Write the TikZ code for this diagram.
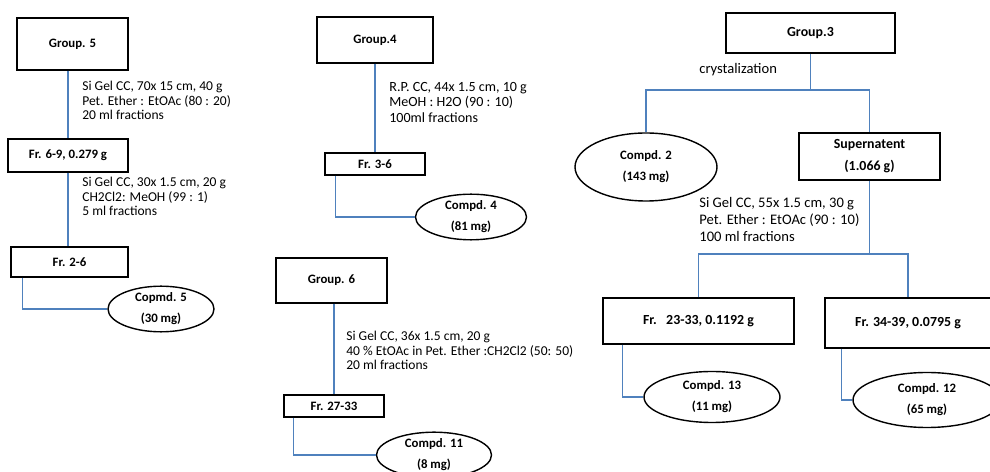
\documentclass[tikz,border=0pt]{standalone}
\usepackage{fontspec}
\setmainfont{Carlito}
\usepackage{xcolor}
\definecolor{link-blue}{HTML}{4F81BD}
\usetikzlibrary{shapes.geometric}

\begin{document}
\begin{tikzpicture}[
      every node/.style={font=\fontsize{7.7}{8.2}\selectfont},
      box/.style={draw=black, thick, rectangle, inner sep=0pt, align=center,
                  font=\fontsize{7.3}{12}\selectfont\bfseries},
      bigbox/.style={box, font=\fontsize{7.9}{12.5}\selectfont\bfseries},
      cmpd/.style={draw=black, thick, ellipse, inner sep=0pt, align=center,
                  font=\fontsize{7.3}{12}\selectfont\bfseries},
      note/.style={anchor=north west, align=left, inner sep=0pt},
      bignote/.style={note, font=\fontsize{8.3}{9.4}\selectfont},
      link/.style={draw=link-blue, line width=0.8pt}]
    \useasboundingbox (0,0) rectangle (19.8,9.44);
    % Group 5
    \node[box, minimum width=2.22cm, minimum height=1.04cm] (G5) at (1.45,8.56) {Group. 5};
    \node[box, minimum width=2.40cm, minimum height=0.66cm] (F69) at (1.36,6.33) {Fr. 6-9, 0.279 g};
    \node[box, minimum width=2.34cm, minimum height=0.60cm] (F26) at (1.39,4.20) {Fr. 2-6};
    \node[cmpd, minimum width=2.12cm, minimum height=0.84cm] (C5) at (3.22,3.26) {Copmd. 5\\(30 mg)};
    \node[note] (T1) at (1.64,7.82) {Si Gel CC, 70x 15 cm, 40 g\\Pet. Ether : EtOAc (80 : 20)\\20 ml fractions};
    \node[note] (T2) at (1.64,5.90) {Si Gel CC, 30x 1.5 cm, 20 g\\CH2Cl2: MeOH (99 : 1)\\5 ml fractions};
    \draw[link] (G5.south -| F69.north) -- (F69.north);
    \draw[link] (F69.south) -- (F69.south |- F26.north);
    \draw[link] ([xshift=0.24cm]F26.south west) |- (C5.west);
    % Group 4
    \node[box, minimum width=2.32cm, minimum height=0.92cm] (G4) at (7.50,8.64) {Group.4};
    \node[box, minimum width=2.00cm, minimum height=0.44cm] (F36) at (7.50,6.16) {Fr. 3-6};
    \node[cmpd, minimum width=2.22cm, minimum height=0.80cm] (C4) at (9.42,5.10) {Compd. 4\\(81 mg)};
    \node[note, font=\fontsize{8}{8.8}\selectfont] (T3) at (7.78,7.80) {R.P. CC, 44x 1.5 cm, 10 g\\MeOH : H2O (90 : 10)\\100ml fractions};
    \draw[link] (G4) -- (F36);
    \draw[link] ([xshift=0.22cm]F36.south west) |- (C4.west);
    % Group 6
    \node[box, minimum width=2.22cm, minimum height=0.90cm] (G6) at (6.63,3.83) {Group. 6};
    \node[box, minimum width=2.00cm, minimum height=0.44cm] (F2733) at (6.68,1.32) {Fr. 27-33};
    \node[cmpd, minimum width=2.30cm, minimum height=0.80cm] (C11) at (8.68,0.34) {Compd. 11\\(8 mg)};
    \node[note] (T4) at (6.92,2.82) {Si Gel CC, 36x 1.5 cm, 20 g\\40 \% EtOAc in Pet. Ether :CH2Cl2 (50: 50)\\20 ml fractions};
    \draw[link] (G6.south -| F2733.north) -- (F2733.north);
    \draw[link] ([xshift=0.20cm]F2733.south west) |- (C11.west);
    % Group 3
    \node[bigbox, minimum width=3.38cm, minimum height=0.80cm] (G3) at (16.21,8.78) {Group.3};
    \node[cmpd, minimum width=2.84cm, minimum height=1.36cm] (C2) at (12.92,6.10) {Compd. 2\\(143 mg)};
    \node[bigbox, minimum width=2.82cm, minimum height=0.94cm] (SUP) at (17.39,6.31) {Supernatent\\(1.066 g)};
    \node[anchor=west, inner sep=0pt, font=\fontsize{8.3}{9.4}\selectfont] (CRY) at (13.98,8.04) {crystalization};
    \node[bignote] (T5) at (13.98,5.49) {Si Gel CC, 55x 1.5 cm, 30 g\\Pet. Ether : EtOAc (90 : 10)\\100 ml fractions};
    \node[bigbox, minimum width=3.82cm, minimum height=0.92cm] (F2333) at (13.97,3.02) {Fr.\ \ \ 23-33, 0.1192 g};
    \node[bigbox, minimum width=3.32cm, minimum height=1.00cm] (F3439) at (18.16,2.98) {Fr. 34-39, 0.0795 g};
    \node[cmpd, minimum width=2.72cm, minimum height=1.02cm] (C13) at (14.24,1.50) {Compd. 13\\(11 mg)};
    \node[cmpd, minimum width=2.96cm, minimum height=1.10cm] (C12) at (18.54,1.44) {Compd. 12\\(65 mg)};
    \coordinate (J3) at (16.21,7.64);
    \coordinate (JS) at (17.39,4.36);
    \draw[link] (G3.south) -- (J3);
    \draw[link] (C2.north) |- (J3) -| (SUP.north);
    \draw[link] (SUP.south) -- (JS);
    \draw[link] (F2333.north) |- (JS) -| (F3439.north);
    \draw[link] ([xshift=0.40cm]F2333.south west) |- (C13.west);
    \draw[link] ([xshift=0.34cm]F3439.south west) |- (C12.west);
  \end{tikzpicture}
\end{document}
